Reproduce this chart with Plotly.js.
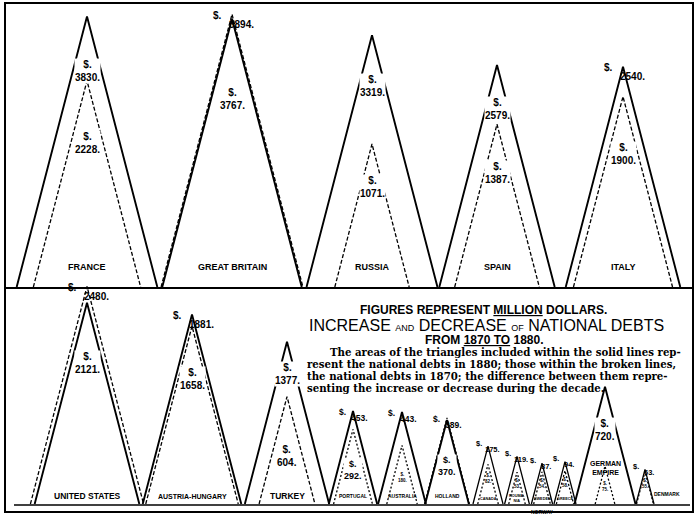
<!DOCTYPE html>
<html>
<head>
<meta charset="utf-8">
<script src="https://cdn.plot.ly/plotly-3.0.1.min.js"></script>
<style>
  html, body { margin: 0; padding: 0; background: #fff; }
  #chart { width: 700px; height: 525px; }
</style>
</head>
<body>
<div id="chart"></div>
<script>
// ---- data (million dollars) ----
const countries = ["FRANCE", "GREAT BRITAIN", "RUSSIA", "SPAIN", "ITALY",
  "UNITED STATES", "AUSTRIA-HUNGARY", "TURKEY", "PORTUGAL", "AUSTRALIA",
  "HOLLAND", "CANADA", "ROUMANIA", "SWEDEN", "GREECE", "GERMAN EMPIRE", "DENMARK"];
const debt1880 = [3830, 3767, 3319, 2579, 2540, 2121, 1881, 1377, 453, 443, 370, 175, 119, 87, 94, 720, 63];
const debt1870 = [2228, 3894, 1071, 1387, 1900, 2480, 1658, 604, 292, 180, 389, 82, 53, 54, 58, 75, 55];

// ---- layout (not data) ----
const rowOf = [0,0,0,0,0, 1,1,1,1,1,1,1,1,1,1,1,1];
const slotX = [87, 232, 372, 497, 623, 87, 192, 287, 353, 402, 447, 488, 517, 542, 565, 605, 645];
const BASE = [287, 504];
const K = 4.37;       // px per sqrt(million)  -> area proportional to value
const SHAPE = 0.52;   // base width / height

const traces = [];
const ann = [];
const FONT = "Liberation Sans, Arial, sans-serif";

function addText(x, y, text, size, extra) {
  ann.push(Object.assign({
    x: x, y: y, xref: "x", yref: "y", text: text, showarrow: false,
    font: {family: FONT, size: size, color: "#000"},
    xanchor: "center", yanchor: "middle", borderpad: 0
  }, extra || {}));
}
const WHITE = {bgcolor: "#fff"};

countries.forEach((name, i) => {
  const base = BASE[rowOf[i]];
  const cx = slotX[i];
  const v80 = debt1880[i], v70 = debt1870[i];
  const series = [
    {v: v80, dash: "solid", w: 1.9},
    {v: v70, dash: "dash", w: 1.3}
  ];
  series.forEach(s => {
    const h = K * Math.sqrt(s.v);
    const half = SHAPE * h / 2;
    traces.push({
      type: "scatter", mode: "lines",
      x: [cx - half, cx, cx + half],
      y: [base, base - h, base],
      line: {color: "#000", width: h < 70 ? 1.3 : s.w,
             dash: s.dash === "dash" ? (h < 100 ? "2px,2px" : "4px,2px") : "solid"},
      hoverinfo: "skip", showlegend: false
    });
  });

  const vOut = Math.max(v80, v70), vIn = Math.min(v80, v70);
  const hOut = K * Math.sqrt(vOut), hIn = K * Math.sqrt(vIn);
  const apexOut = base - hOut, apexIn = base - hIn;
  const outside = (hIn / hOut > 0.85) || hOut < 100;
  const small = hOut < 100;
  const tiny = hOut < 60;

  if (outside) {
    const fs = tiny ? 7.5 : (small ? 8.5 : 10);
    addText(cx - (tiny ? 9 : (small ? 11 : 15)), apexOut + (tiny ? -3 : 1), "<b>$.</b>", fs);
    addText(cx + (tiny ? 4 : (small ? 6 : 9)), apexOut + (tiny ? 3 : (small ? 7 : 10)), "<b>" + vOut + ".</b>", fs);
  } else {
    const f = hOut > 130 ? 0.2 : 0.37;
    addText(cx, apexOut + f * hOut, "<b>$.<br>" + vOut + ".</b>", 10, WHITE);
  }
  const inFs = hIn > 100 ? 10 : (hIn > 70 ? 9 : 4.5);
  const inY = hIn > 120 ? apexIn + 0.3 * hIn : (tiny ? apexIn + 0.36 * hIn : apexIn + 0.55 * hIn);
  addText(cx, inY, "<b>$.<br>" + vIn + ".</b>", inFs, inFs > 5 ? WHITE : {});

  // country names
  let nFs = rowOf[i] === 0 ? 9 : (hOut > 150 ? 8.5 : 5);
  if (name === "AUSTRIA-HUNGARY") nFs = 7;
  if (tiny) nFs = 3.8;
  let nx = cx, ny = rowOf[i] === 0 ? base - 20 : (tiny ? base - 5 : base - 8), txt = name;
  if (name === "GERMAN EMPIRE") { txt = "GERMAN<br>EMPIRE"; ny = base - 36; nFs = 7; }
  if (name === "DENMARK") { nx = cx + 22; ny = base - 10; nFs = 5; }
  if (name === "SWEDEN") { addText(cx, base + 8, "<b>NORWAY</b>", 5); }
  if (name === "ROUMANIA") { txt = "ROUMA-<br>NIA"; ny = base - 6; }
  addText(nx, ny, "<b>" + txt + "</b>", nFs);
});

// ---- heading and explanation ----
addText(483, 310, "<b>FIGURES REPRESENT <span style=\"text-decoration:underline\">MILLION</span> DOLLARS.</b>", 12);
addText(486, 325, "INCREASE <span style=\"font-size:9px\">AND</span> DECREASE <span style=\"font-size:9px\">OF</span> NATIONAL DEBTS", 16,
  {font: {family: FONT, size: 16, color: "#000"}});
addText(484, 340, "<b>FROM <span style=\"text-decoration:underline\">1870 TO</span> 1880.</b>", 12);
const para = [
  "The areas of the triangles included within the solid lines rep-",
  "resent the national debts in 1880; those within the broken lines,",
  "the national debts in 1870; the difference between them repre-",
  "senting the increase or decrease during the decade."
];
const paraX = [328, 305, 305, 305];
para.forEach((line, k) => {
  ann.push({x: paraX[k], y: 352 + k * 12, xref: "x", yref: "y", text: "<b>" + line + "</b>",
    showarrow: false, xanchor: "left", yanchor: "middle",
    font: {family: "DejaVu Serif, Liberation Serif, serif", size: 10.2, color: "#000"}});
});

const shapes = [
  {type: "rect", xref: "x", yref: "y", x0: 5, x1: 693, y0: 3, y1: 512, line: {color: "#000", width: 2}},
  {type: "line", xref: "x", yref: "y", x0: 5, x1: 693, y0: 288, y1: 288, line: {color: "#000", width: 2}},
  {type: "line", xref: "x", yref: "y", x0: 14, x1: 690, y0: 505, y1: 505, line: {color: "#000", width: 1.5}}
];

const layout = {
  width: 700, height: 525,
  margin: {l: 0, r: 0, t: 0, b: 0},
  paper_bgcolor: "#fff", plot_bgcolor: "#fff",
  xaxis: {range: [0, 700], visible: false, fixedrange: true},
  yaxis: {range: [525, 0], visible: false, fixedrange: true},
  showlegend: false,
  annotations: ann,
  shapes: shapes
};
Plotly.newPlot("chart", traces, layout, {staticPlot: true});
</script>
</body>
</html>
